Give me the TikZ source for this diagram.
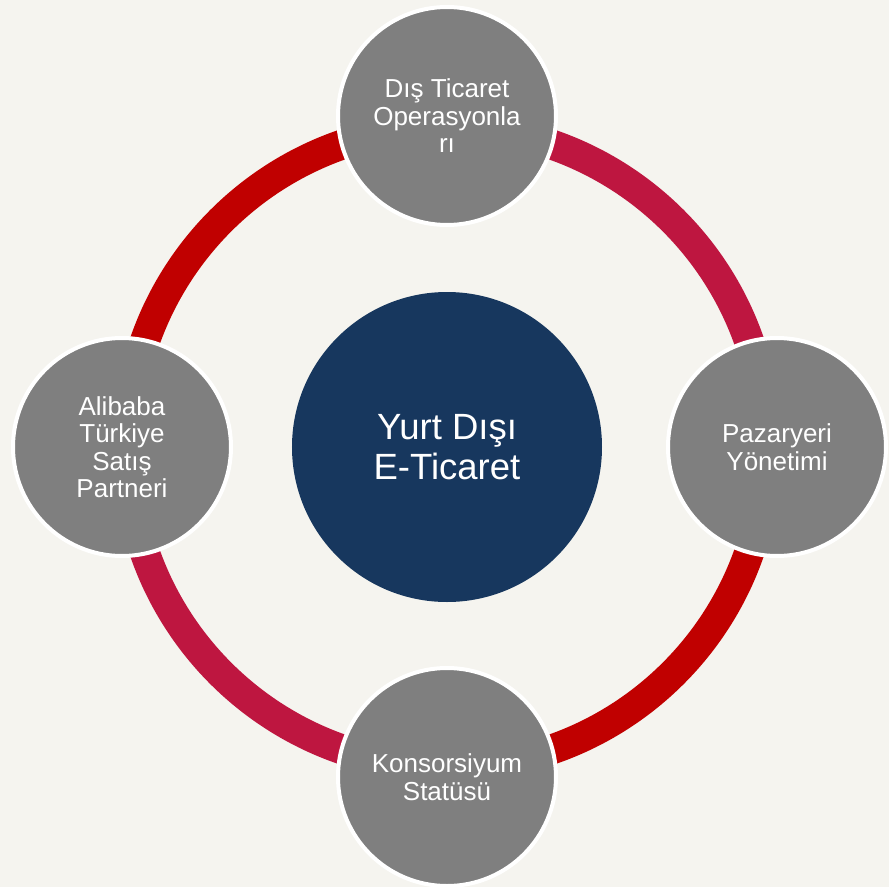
\documentclass[tikz,border=0pt]{standalone}
\usepackage{fontspec}
\setmainfont{Liberation Sans}
\definecolor{zemin}{HTML}{F5F4EF}
\definecolor{gri}{HTML}{7F7F7F}
\definecolor{lacivert}{HTML}{17375E}
\definecolor{kirmizi}{HTML}{C00000}
\definecolor{bordo}{HTML}{BE1640}
\tikzset{
  halka/.style={line width=30pt},
  uydu/.style={circle,fill=gri,draw=white,line width=4pt,minimum size=218pt,
    inner sep=0pt,text=white,align=center,font=\fontsize{26}{27.5}\selectfont},
  merkezdaire/.style={circle,fill=lacivert,minimum size=310pt,inner sep=0pt,
    text=white,align=center,font=\fontsize{36.5}{40}\selectfont}
}
\begin{document}
\begin{tikzpicture}[x=1pt,y=1pt]
    \fill[zemin] (-447,-440) rectangle (442,447);
    \useasboundingbox (-447,-440) rectangle (442,447);
    \draw[halka,color=bordo] (320,0) arc (0:90:320);
    \draw[halka,color=kirmizi] (0,320) arc (90:180:320);
    \draw[halka,color=bordo] (-320,0) arc (180:270:320);
    \draw[halka,color=kirmizi] (0,-320) arc (270:360:320);
    \node[merkezdaire] (merkez) at (0,0) {Yurt Dışı\\E-Ticaret};
    \node[uydu] (ust) at (0,331) {Dış Ticaret\\Operasyonla\\rı};
    \node[uydu] (sag) at (330,0) {Pazaryeri\\Yönetimi};
    \node[uydu] (alt) at (0,-330) {Konsorsiyum\\Statüsü};
    \node[uydu] (sol) at (-325,0) {Alibaba\\Türkiye\\Satış\\Partneri};
\end{tikzpicture}
\end{document}
